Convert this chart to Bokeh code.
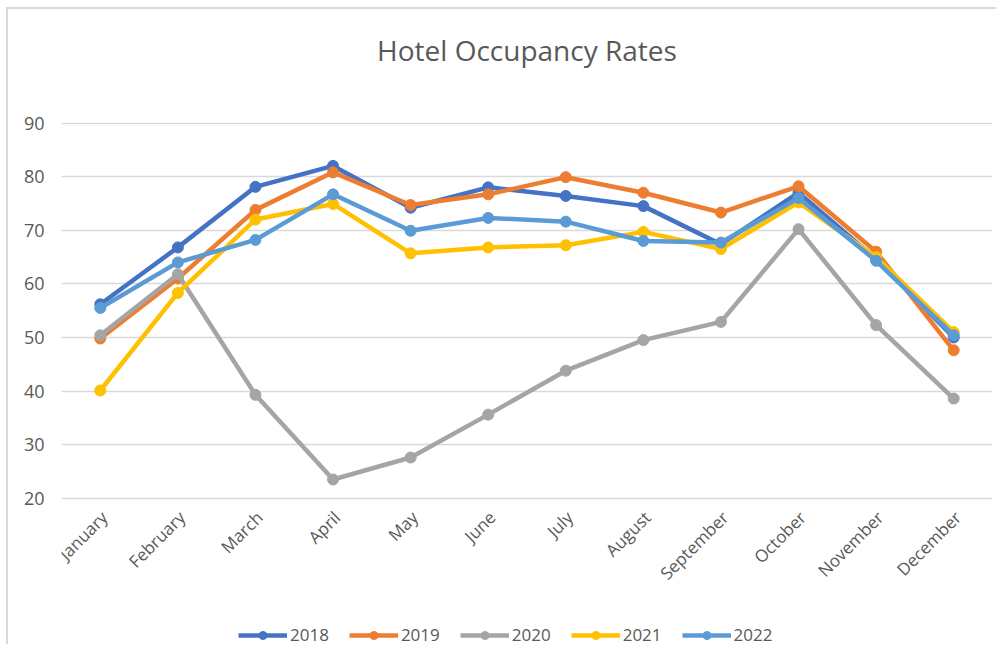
import math
from bokeh.plotting import figure
from bokeh.models import Legend, LegendItem, Range1d, FactorRange, FixedTicker, Title
from bokeh.core.properties import value
from bokeh.embed import file_html
from bokeh.resources import INLINE

months = ["January", "February", "March", "April", "May", "June", "July",
          "August", "September", "October", "November", "December"]
years = ["2018", "2019", "2020", "2021", "2022"]
y_ticks = [20, 30, 40, 50, 60, 70, 80, 90]

y2018 = [56.2, 66.8, 78.1, 82.0, 74.2, 78.0, 76.4, 74.5, 67.4, 77.0, 64.6, 50.0]
y2019 = [49.8, 61.0, 73.8, 80.8, 74.7, 76.7, 79.9, 77.0, 73.3, 78.2, 66.0, 47.6]
y2020 = [50.4, 61.8, 39.3, 23.5, 27.6, 35.6, 43.8, 49.5, 52.9, 70.2, 52.3, 38.6]
y2021 = [40.1, 58.3, 72.0, 74.9, 65.7, 66.8, 67.2, 69.7, 66.5, 75.2, 65.0, 51.0]
y2022 = [55.5, 64.0, 68.2, 76.7, 69.9, 72.3, 71.6, 68.0, 67.7, 76.0, 64.3, 50.4]
series = [y2018, y2019, y2020, y2021, y2022]
colors = ["#4472C4", "#ED7D31", "#A5A5A5", "#FFC000", "#5B9BD5"]

FONT = "Open Sans"
TXT = "#595959"

W, H = 990, 637
TOP, BOTTOM, LEFT, RIGHT = 112, 0, 53, 6
FRAME_H = H - TOP - BOTTOM
Y_TOP = 90.1
PX_PER_UNIT = 377 / 70.2          # keeps 20..90 at the reference's pixel span
y_start = Y_TOP - FRAME_H / PX_PER_UNIT

p = figure(x_range=FactorRange(*months, range_padding=0), y_range=Range1d(y_start, Y_TOP),
           width=W, height=H,
           min_border_left=LEFT, min_border_right=RIGHT, min_border_top=TOP,
           min_border_bottom=BOTTOM,
           output_backend="svg", toolbar_location=None, title=None)

# blank spacer next to the frame, then the title (outermost)
p.add_layout(Title(text=" ", text_font_size="10px", standoff=22), "above")
p.add_layout(Title(text="Hotel Occupancy Rates", align="center", text_font=FONT,
                   text_font_size="28px", text_font_style="normal", text_color=TXT,
                   standoff=38), "above")

p.outline_line_color = None
p.xgrid.grid_line_color = None
p.ygrid.grid_line_color = "#D9D9D9"
p.ygrid.grid_line_width = 1.5
p.yaxis.ticker = FixedTicker(ticks=y_ticks)
p.ygrid.ticker = FixedTicker(ticks=y_ticks)

p.yaxis.axis_line_color = None
p.yaxis.major_tick_line_color = None
p.yaxis.minor_tick_line_color = None
p.yaxis.major_label_text_font = FONT
p.yaxis.major_label_text_color = TXT
p.yaxis.major_label_text_font_size = "18px"
p.yaxis.major_label_standoff = 11

# category labels drawn just under the lowest gridline, inside the frame
p.xaxis.visible = False
p.text(x=months, y=[y_ticks[0]] * len(months), text=months, angle=math.pi / 4,
       x_offset=4, y_offset=16, text_align="right", text_baseline="middle",
       text_font=value(FONT), text_font_size="17px", text_color=TXT)

items = []
for yr, ys, c in zip(years, series, colors):
    l = p.line(months, ys, line_color=c, line_width=4.5, line_join="round")
    m = p.scatter(months, ys, size=11, fill_color=c, line_color=c)
    items.append(LegendItem(label=yr, renderers=[l, m]))

legend = Legend(items=items, orientation="horizontal", location=(177, 0),
                glyph_width=49, glyph_height=20, label_standoff=3, spacing=20,
                label_text_font=FONT, label_text_font_size="17px", label_text_color=TXT,
                border_line_color=None, background_fill_alpha=0, margin=0, padding=4)
p.add_layout(legend, "center")

p.styles = {"border-left": "2px solid #D9D9D9", "border-top": "2px solid #D9D9D9",
            "margin-left": "6px", "margin-top": "7px"}

open("out.html", "w").write(file_html(p, INLINE))
